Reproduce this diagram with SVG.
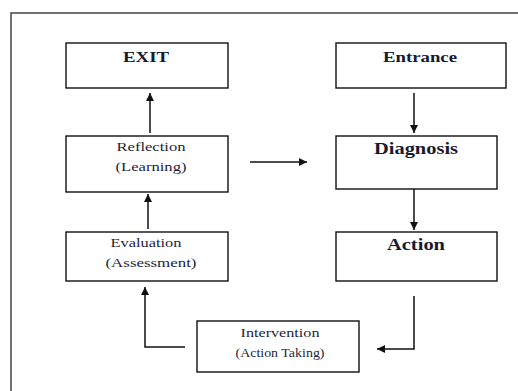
<svg xmlns="http://www.w3.org/2000/svg" width="518" height="391" viewBox="0 0 518 391">
<style>
.box{fill:#fff;stroke:#111;stroke-width:1.4}
.frame{fill:none;stroke:#444;stroke-width:1.5}
.big{font-family:"Liberation Serif","Times New Roman",serif;font-size:15px;font-weight:bold;fill:#1a1a2e;text-anchor:middle}
.mid{font-family:"Liberation Serif","Times New Roman",serif;font-size:16px;font-weight:bold;fill:#1a1a2e;text-anchor:middle}
.sm{font-family:"Liberation Serif","Times New Roman",serif;font-size:12px;fill:#1f1f3a;text-anchor:middle}
.c{fill:none;stroke:#111;stroke-width:1.5}
</style>
<defs>
<marker id="ah" markerUnits="userSpaceOnUse" markerWidth="9" markerHeight="9" refX="8" refY="4" orient="auto">
<path d="M0,0 L8,4 L0,8 z" fill="#111"/>
</marker>
</defs>
<rect width="518" height="391" fill="#fff"/>
<path class="frame" d="M11,391 L11,13 L518,13"/>
<g id="exit">
<rect class="box" x="66" y="43" width="162" height="45"/>
<text class="big" x="146" y="62" textLength="46" lengthAdjust="spacingAndGlyphs">EXIT</text>
</g>
<g id="entrance">
<rect class="box" x="336" y="43" width="170" height="45"/>
<text class="big" x="420" y="62" textLength="74" lengthAdjust="spacingAndGlyphs">Entrance</text>
</g>
<g id="reflection">
<rect class="box" x="66" y="136" width="162" height="56"/>
<text class="sm" x="151" y="151" textLength="69" lengthAdjust="spacingAndGlyphs">Reflection</text>
<text class="sm" x="151" y="171" textLength="71" lengthAdjust="spacingAndGlyphs">(Learning)</text>
</g>
<g id="diagnosis">
<rect class="box" x="336" y="136" width="161" height="53"/>
<text class="mid" x="416" y="154" textLength="84" lengthAdjust="spacingAndGlyphs">Diagnosis</text>
</g>
<g id="evaluation">
<rect class="box" x="66" y="232" width="162" height="49"/>
<text class="sm" x="146" y="247" textLength="71" lengthAdjust="spacingAndGlyphs">Evaluation</text>
<text class="sm" x="151" y="267" textLength="91" lengthAdjust="spacingAndGlyphs">(Assessment)</text>
</g>
<g id="action">
<rect class="box" x="336" y="232" width="161" height="49"/>
<text class="mid" x="416" y="250" textLength="58" lengthAdjust="spacingAndGlyphs">Action</text>
</g>
<g id="intervention">
<rect class="box" x="197" y="321" width="162" height="51"/>
<text class="sm" x="280" y="337" textLength="79" lengthAdjust="spacingAndGlyphs">Intervention</text>
<text class="sm" x="280" y="357" textLength="89" lengthAdjust="spacingAndGlyphs">(Action Taking)</text>
</g>
<g id="connectors">
<path class="c" d="M150,133 L150,93" marker-end="url(#ah)"/>
<path class="c" d="M414,93 L414,133" marker-end="url(#ah)"/>
<path class="c" d="M250,162 L307,162" marker-end="url(#ah)"/>
<path class="c" d="M414,189 L414,230" marker-end="url(#ah)"/>
<path class="c" d="M414,296 L414,349 L377,349" marker-end="url(#ah)"/>
<path class="c" d="M185,347 L145,347 L145,287" marker-end="url(#ah)"/>
<path class="c" d="M148,229 L148,194" marker-end="url(#ah)"/>
</g>
</svg>
